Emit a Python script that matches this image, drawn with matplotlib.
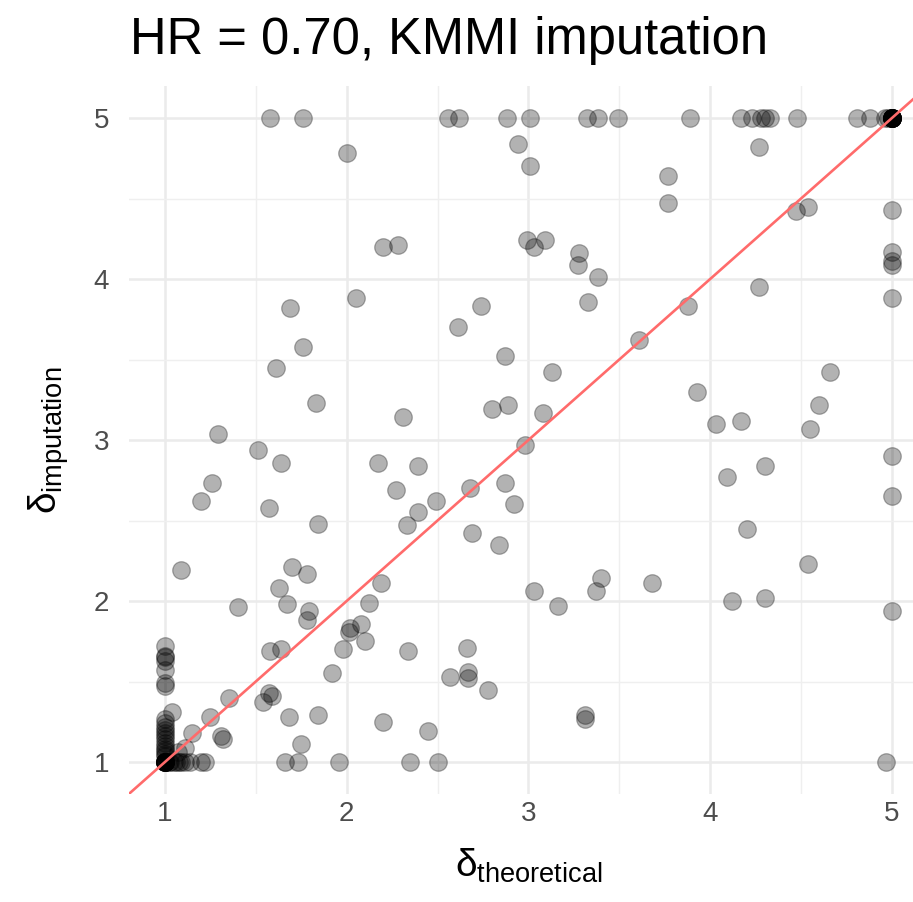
"""
Scatter of imputed vs theoretical delta (KMMI imputation, HR = 0.70),
drawn in a ggplot theme_minimal look.
"""

import matplotlib
matplotlib.use("Agg")
import matplotlib.pyplot as plt
from matplotlib.ticker import MultipleLocator

plt.rcParams["font.family"] = ["Liberation Sans", "DejaVu Sans"]
plt.rcParams["mathtext.fontset"] = "custom"
plt.rcParams["mathtext.rm"] = "Liberation Sans"
plt.rcParams["mathtext.it"] = "Liberation Sans"
plt.rcParams["mathtext.bf"] = "Liberation Sans:bold"

TITLE = "HR = 0.70, KMMI imputation"
TICKS = [1, 2, 3, 4, 5]

# -- data (theoretical, imputation) -------------------------------------
# points sitting on the top edge (imputation = 5)
top_theoretical = [1.58, 1.76, 2.56, 2.62, 2.88, 3.01, 3.32, 3.38, 3.49, 3.89,
                   4.17, 4.23, 4.28, 4.30, 4.33, 4.48, 4.81, 4.88, 4.96, 4.98,
                   5, 5, 5, 5, 5, 5, 5, 5, 5, 5, 5, 5]
top_imputation = [5.0] * len(top_theoretical)

# scattered points in the body of the plot
mid_theoretical = [
    2.00, 2.94, 3.01, 3.77, 3.77, 4.27, 4.47, 4.54, 5.00, 2.20,
    2.28, 2.99, 3.03, 3.09, 3.28, 3.27, 3.38, 5.00, 5.00, 5.00,
    4.27, 5.00, 2.05, 1.69, 3.33, 2.74, 3.88, 2.61, 3.61, 1.76,
    2.87, 1.61, 3.13, 4.66, 3.93, 1.83, 2.89, 4.60, 2.80, 3.08,
    2.31, 4.17, 4.03, 4.55, 1.29, 2.98, 1.51, 5.00, 1.64, 2.17,
    2.39, 4.30, 4.09, 1.26, 2.87, 2.68, 2.27, 5.00, 1.20, 2.49,
    2.92, 1.57, 2.39, 1.84, 2.33, 4.20, 2.69, 2.84, 4.54, 1.70,
    1.09, 1.78, 3.40, 2.19, 3.68, 1.63, 3.03, 3.37, 4.30, 4.12,
    2.12, 1.67, 3.16, 1.40, 1.79, 5.00, 1.78, 2.08, 2.02, 2.01,
    2.10, 1.58, 1.64, 1.98, 2.34, 2.66, 1.92, 2.57, 2.67, 2.67,
    2.78, 1.57, 1.59, 1.54, 1.68, 1.84, 3.31, 3.31, 2.20, 2.45,
    1.75, 1.66, 1.73, 1.96, 2.35, 2.50, 4.97,
]
mid_imputation = [
    4.78, 4.84, 4.70, 4.64, 4.47, 4.82, 4.42, 4.45, 4.43, 4.20,
    4.21, 4.24, 4.20, 4.24, 4.16, 4.09, 4.01, 4.17, 4.11, 4.09,
    3.95, 3.88, 3.88, 3.82, 3.86, 3.83, 3.83, 3.70, 3.62, 3.58,
    3.52, 3.45, 3.42, 3.42, 3.30, 3.23, 3.22, 3.22, 3.19, 3.17,
    3.14, 3.12, 3.10, 3.07, 3.04, 2.97, 2.94, 2.90, 2.86, 2.86,
    2.84, 2.84, 2.77, 2.73, 2.73, 2.70, 2.69, 2.65, 2.62, 2.62,
    2.60, 2.58, 2.55, 2.48, 2.47, 2.45, 2.42, 2.35, 2.23, 2.21,
    2.19, 2.17, 2.14, 2.11, 2.11, 2.08, 2.06, 2.06, 2.02, 2.00,
    1.99, 1.98, 1.97, 1.96, 1.94, 1.94, 1.88, 1.86, 1.83, 1.81,
    1.75, 1.69, 1.70, 1.70, 1.69, 1.71, 1.55, 1.53, 1.56, 1.52,
    1.45, 1.43, 1.41, 1.37, 1.28, 1.29, 1.29, 1.27, 1.25, 1.19,
    1.11, 1.00, 1.00, 1.00, 1.00, 1.00, 1.00,
]

# dense cluster around (1, 1)
low_theoretical = [
    1, 1, 1, 1, 1, 1, 1, 1, 1, 1, 1, 1, 1, 1, 1, 1, 1, 1, 1, 1,
    1, 1, 1, 1, 1, 1, 1, 1, 1, 1,
    1.04, 1.07, 1.11, 1.15, 1.25, 1.31, 1.32, 1.35,
    1.02, 1.03, 1.05, 1.06, 1.08, 1.09, 1.11, 1.14, 1.20, 1.22,
]
low_imputation = [
    1.72, 1.66, 1.65, 1.63, 1.57, 1.49, 1.47, 1.27, 1.24, 1.22,
    1.20, 1.18, 1.16, 1.14, 1.12, 1.10, 1.08, 1.07, 1.05, 1.04,
    1, 1, 1, 1, 1, 1, 1, 1, 1, 1,
    1.31, 1.06, 1.09, 1.18, 1.28, 1.16, 1.14, 1.40,
    1.0, 1.0, 1.0, 1.0, 1.0, 1.0, 1.0, 1.0, 1.0, 1.0,
]

theoretical = top_theoretical + mid_theoretical + low_theoretical
imputation = top_imputation + mid_imputation + low_imputation

# -- figure --------------------------------------------------------------
fig = plt.figure(figsize=(9.13, 9.02), dpi=100)
# panel runs a little past the right edge of the canvas, as in the reference
ax = fig.add_axes([128.6 / 913, 107.8 / 902, 799.7 / 913, 708.4 / 902])

ax.set_xlim(0.8, 5.2)
ax.set_ylim(0.8, 5.2)

ax.xaxis.set_minor_locator(MultipleLocator(0.5))
ax.yaxis.set_minor_locator(MultipleLocator(0.5))
ax.set_xticks(TICKS)
ax.set_yticks(TICKS)

ax.grid(which="major", color="#EBEBEB", linewidth=1.8)
ax.grid(which="minor", color="#EFEFEF", linewidth=1.0)
ax.set_axisbelow(True)
for side in ax.spines.values():
    side.set_visible(False)

ax.tick_params(which="both", length=0)
ax.tick_params(axis="x", labelsize=20, labelcolor="#4D4D4D", pad=5)
ax.tick_params(axis="y", labelsize=20, labelcolor="#4D4D4D", pad=14)

ax.scatter(theoretical, imputation, s=160, color="black", alpha=0.3,
           edgecolors="black", linewidths=0.9, zorder=2)

ax.axline((1, 1), slope=1, color="#FF6B6B", linewidth=1.9, zorder=3)

ax.set_xlabel(r"$\delta_{\mathrm{theoretical}}$", fontsize=28, labelpad=14)
ax.set_ylabel(r"$\delta_{\mathrm{imputation}}$", fontsize=28, labelpad=16)

fig.text(130 / 913, 1 - 54 / 902, TITLE, fontsize=36.5, ha="left",
         va="baseline")

plt.savefig("out.png", dpi=100)
plt.close()
